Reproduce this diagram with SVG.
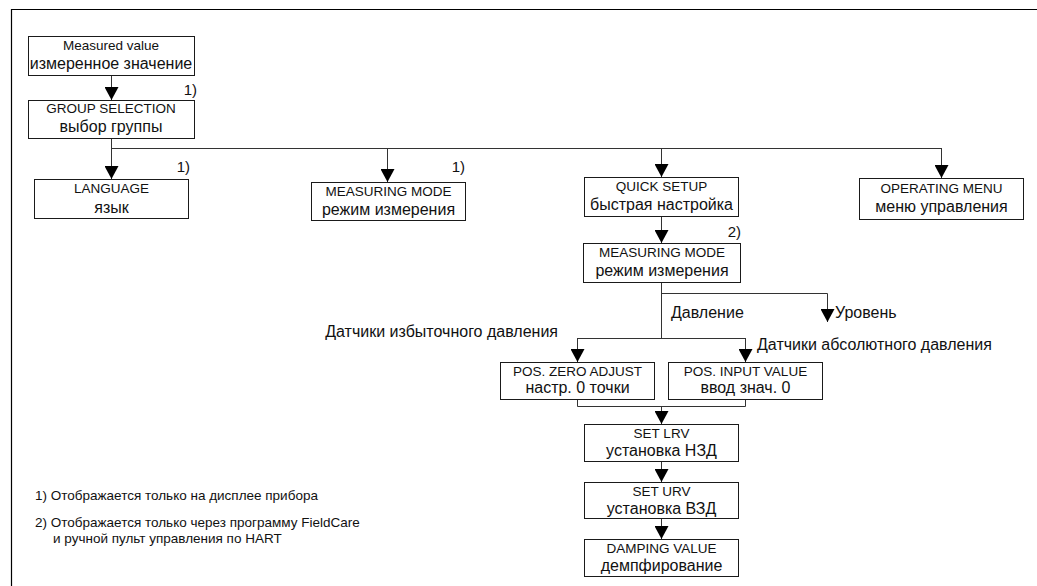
<svg xmlns="http://www.w3.org/2000/svg" width="1037" height="586" viewBox="0 0 1037 586">
<style>
.bx{fill:#fff;stroke:#1a1a1a;stroke-width:1}
.ln{fill:none;stroke:#333;stroke-width:1}
.fr{fill:none;stroke:#000;stroke-width:1.2}
text{font-family:"Liberation Sans",Arial,sans-serif;fill:#111}
.l{font-size:13.5px;text-anchor:middle}
.c{font-size:16px;text-anchor:middle}
.n{font-size:15px}
.lb{font-size:16px}
.fn{font-size:13.5px}
</style>
<defs>
<marker id="ah" markerUnits="userSpaceOnUse" viewBox="0 0 13 14" refX="13" refY="7" markerWidth="13" markerHeight="14" orient="auto">
<path d="M0,0 L13,7 L0,14 z" fill="#000"/>
</marker>
</defs>
<rect width="1037" height="586" fill="#fff"/>
<path class="fr" d="M11.5,586 V9.5 H1037"/>

<g id="connectors">
<path class="ln" d="M111.5,75 V100" marker-end="url(#ah)"/>
<path class="ln" d="M111.5,138 V148.5 H941.5"/>
<path class="ln" d="M111.5,148 V179" marker-end="url(#ah)"/>
<path class="ln" d="M387.5,148 V182" marker-end="url(#ah)"/>
<path class="ln" d="M661.5,148 V177" marker-end="url(#ah)"/>
<path class="ln" d="M941.5,148 V178" marker-end="url(#ah)"/>
<path class="ln" d="M661.5,216 V243" marker-end="url(#ah)"/>
<path class="ln" d="M661.5,282 V338.5"/>
<path class="ln" d="M661.5,293.5 H827.5 V322" marker-end="url(#ah)"/>
<path class="ln" d="M577.5,338.5 H745.5"/>
<path class="ln" d="M577.5,338 V362" marker-end="url(#ah)"/>
<path class="ln" d="M745.5,338 V362" marker-end="url(#ah)"/>
<path class="ln" d="M577.5,399 V406.5 H745.5 V399"/>
<path class="ln" d="M661.5,406 V424" marker-end="url(#ah)"/>
<path class="ln" d="M661.5,461 V482" marker-end="url(#ah)"/>
<path class="ln" d="M661.5,518 V539" marker-end="url(#ah)"/>
</g>

<g id="measured">
<rect class="bx" x="28.5" y="36.5" width="166" height="39"/>
<text class="l" x="111" y="50">Measured value</text>
<text class="c" x="111" y="69">измеренное значение</text>
</g>
<g id="group">
<rect class="bx" x="28.5" y="100.5" width="166" height="38"/>
<text class="l" x="111" y="113">GROUP SELECTION</text>
<text class="c" x="111" y="132">выбор группы</text>
<text class="n" x="197" y="95" text-anchor="end">1)</text>
</g>
<g id="language">
<rect class="bx" x="34.5" y="179.5" width="154" height="39"/>
<text class="l" x="111.5" y="193">LANGUAGE</text>
<text class="c" x="111.5" y="213">язык</text>
<text class="n" x="190" y="172" text-anchor="end">1)</text>
</g>
<g id="mm1">
<rect class="bx" x="311.5" y="182.5" width="154" height="38"/>
<text class="l" x="388.5" y="196">MEASURING MODE</text>
<text class="c" x="388.5" y="215">режим измерения</text>
<text class="n" x="465" y="172" text-anchor="end">1)</text>
</g>
<g id="quicksetup">
<rect class="bx" x="584.5" y="177.5" width="154" height="39"/>
<text class="l" x="661.5" y="191">QUICK SETUP</text>
<text class="c" x="661.5" y="210">быстрая настройка</text>
</g>
<g id="operating">
<rect class="bx" x="859.5" y="178.5" width="164" height="41"/>
<text class="l" x="941.5" y="193">OPERATING MENU</text>
<text class="c" x="941.5" y="212">меню управления</text>
</g>
<g id="mm2">
<rect class="bx" x="583.5" y="243.5" width="157" height="39"/>
<text class="l" x="662" y="257">MEASURING MODE</text>
<text class="c" x="662" y="276">режим измерения</text>
<text class="n" x="741" y="237" text-anchor="end">2)</text>
</g>
<g id="labels">
<text class="lb" x="671" y="318">Давление</text>
<text class="lb" x="835" y="318">Уровень</text>
<text class="lb" x="558" y="337" text-anchor="end">Датчики избыточного давления</text>
<text class="lb" x="757" y="350">Датчики абсолютного давления</text>
</g>
<g id="poszero">
<rect class="bx" x="500.5" y="362.5" width="154" height="37"/>
<text class="l" x="577.5" y="376">POS. ZERO ADJUST</text>
<text class="c" x="577.5" y="393">настр. 0 точки</text>
</g>
<g id="posinput">
<rect class="bx" x="668.5" y="362.5" width="154" height="37"/>
<text class="l" x="745.5" y="376">POS. INPUT VALUE</text>
<text class="c" x="745.5" y="393">ввод знач. 0</text>
</g>
<g id="setlrv">
<rect class="bx" x="584.5" y="424.5" width="154" height="37"/>
<text class="l" x="661.5" y="438">SET LRV</text>
<text class="c" x="661.5" y="456">установка НЗД</text>
</g>
<g id="seturv">
<rect class="bx" x="584.5" y="482.5" width="154" height="36"/>
<text class="l" x="661.5" y="496">SET URV</text>
<text class="c" x="661.5" y="514">установка ВЗД</text>
</g>
<g id="damping">
<rect class="bx" x="584.5" y="539.5" width="154" height="37"/>
<text class="l" x="661.5" y="553">DAMPING VALUE</text>
<text class="c" x="661.5" y="571">демпфирование</text>
</g>
<g id="footnotes">
<text class="fn" x="35" y="500">1) Отображается только на дисплее прибора</text>
<text class="fn" x="35" y="527">2) Отображается только через программу FieldCare</text>
<text class="fn" x="53" y="543">и ручной пульт управления по HART</text>
</g>
</svg>
